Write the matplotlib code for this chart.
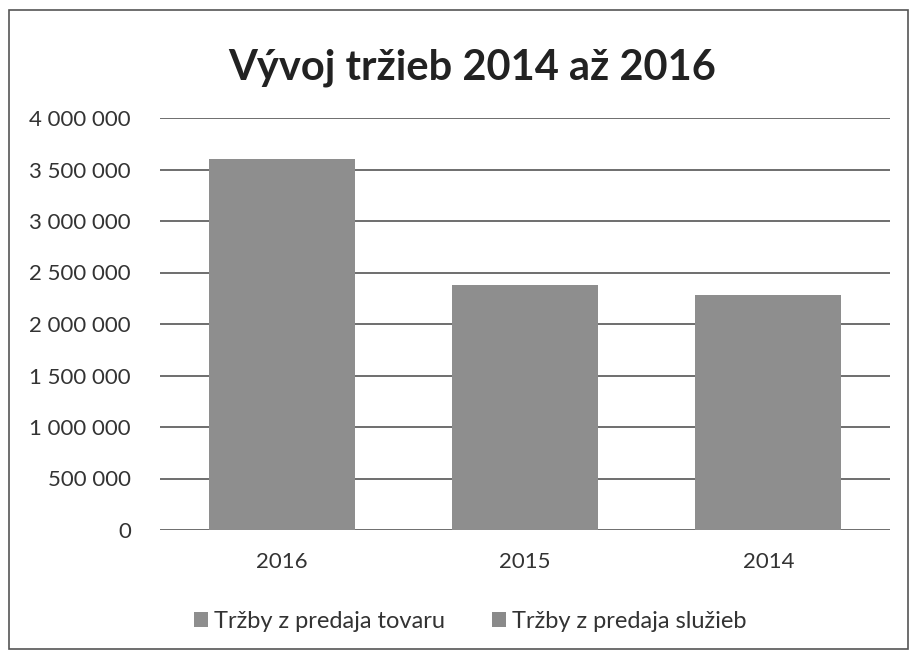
import matplotlib
matplotlib.use("Agg")
import matplotlib.pyplot as plt
from matplotlib.patches import Rectangle
import numpy as np

categories = ["2016", "2015", "2014"]
tovar = [3600000, 2380000, 2280000]
sluzby = [0, 0, 0]
legend_labels = ["Tržby z predaja tovaru", "Tržby z predaja služieb"]
yticks = [0, 500000, 1000000, 1500000, 2000000, 2500000, 3000000, 3500000, 4000000]
ytick_labels = ["0", "500 000", "1 000 000", "1 500 000", "2 000 000", "2 500 000",
                "3 000 000", "3 500 000", "4 000 000"]
title = "Vývoj tržieb 2014 až 2016"

plt.rcParams['font.family'] = ['Lato', 'DejaVu Sans']

fig = plt.figure(figsize=(9.17, 6.56), dpi=100)
fig.patches.append(Rectangle((0.01, 0.01), 0.98, 0.975, transform=fig.transFigure,
                             fill=False, edgecolor="#555555", linewidth=1.2))
ax = fig.add_axes([160/917, 1-530/656, 730/917, 412/656])

x = np.arange(len(categories))
c1 = "#8e8e8e"
c2 = "#8a8a8a"
ax.bar(x, tovar, width=0.6, color=c1, label=legend_labels[0], zorder=2)
ax.bar(x, sluzby, width=0.6, bottom=tovar, color=c2, label=legend_labels[1], zorder=2)

ax.set_ylim(0, 4000000)
ax.set_xlim(-0.5, 2.5)
ax.set_yticks(yticks)
ax.set_yticklabels(ytick_labels, fontsize=16, color="#333333")
ax.set_xticks(x)
ax.set_xticklabels(categories, fontsize=16, color="#333333")
ax.tick_params(axis='both', length=0)
ax.tick_params(axis='y', pad=21)
ax.tick_params(axis='x', pad=16)
ax.grid(axis='y', color="#555555", linewidth=1.2, zorder=0)
for s in ax.spines.values():
    s.set_visible(False)

fig.text(0.515, 1-68/656, title, ha='center', va='center', fontsize=30,
         fontweight='bold', color="#222222")

fig.legend(loc='center', bbox_to_anchor=(470/917, 1-621/656), ncol=2, frameon=False,
           fontsize=17, handlelength=0.6, handleheight=0.6, columnspacing=2.0,
           handletextpad=0.25, labelcolor="#333333")

fig.savefig("out.png", dpi=100)
